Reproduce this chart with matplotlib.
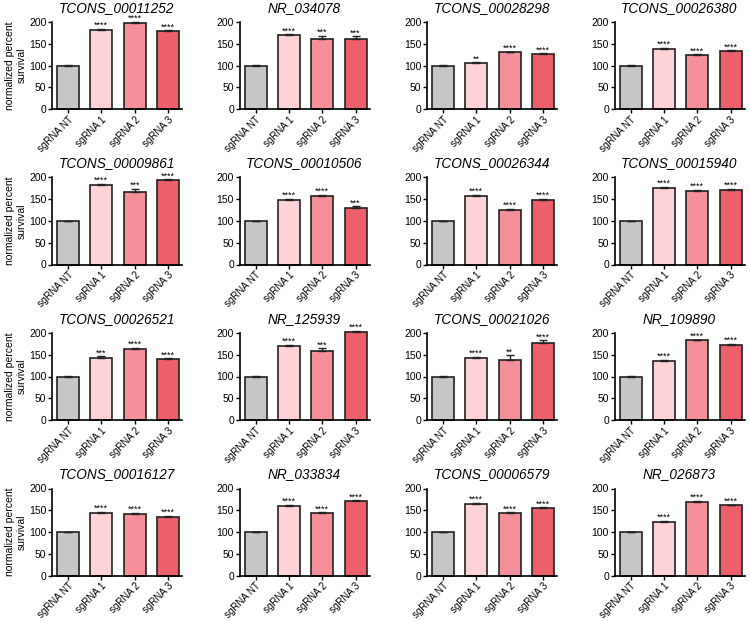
import numpy as np
import matplotlib
matplotlib.use('Agg')
import matplotlib.pyplot as plt

plt.rcParams['font.family'] = ['Liberation Sans', 'DejaVu Sans']

# Daten
groups = ['sgRNA NT', 'sgRNA 1', 'sgRNA 2', 'sgRNA 3']
titles = ['TCONS_00011252', 'NR_034078', 'TCONS_00028298', 'TCONS_00026380',
          'TCONS_00009861', 'TCONS_00010506', 'TCONS_00026344', 'TCONS_00015940',
          'TCONS_00026521', 'NR_125939', 'TCONS_00021026', 'NR_109890',
          'TCONS_00016127', 'NR_033834', 'TCONS_00006579', 'NR_026873']
means = [[100, 181, 198, 179], [100, 170, 161, 161], [100, 106, 130, 127], [100, 138, 125, 133],
         [100, 183, 167, 194], [100, 149, 158, 131], [100, 158, 126, 148], [100, 175, 170, 171],
         [100, 142, 163, 141], [100, 171, 159, 203], [100, 143, 139, 177], [100, 135, 183, 173],
         [100, 144, 142, 135], [100, 160, 143, 171], [100, 165, 143, 155], [100, 124, 170, 161]]
errors = [[1, 3, 2, 2], [1, 2, 7, 6], [1, 1, 2, 1], [1, 2, 1, 2],
          [1, 2, 7, 2], [1, 2, 2, 3], [1, 2, 2, 3], [1, 3, 2, 3],
          [1, 4, 3, 1], [1, 2, 6, 2], [1, 2, 10, 6], [1, 3, 2, 2],
          [1, 2, 2, 2], [1, 3, 2, 2], [1, 2, 2, 2], [1, 2, 2, 2]]
stars = [['', '****', '****', '****'], ['', '****', '***', '***'], ['', '**', '****', '****'], ['', '****', '****', '****'],
         ['', '****', '***', '****'], ['', '****', '****', '***'], ['', '****', '****', '****'], ['', '****', '****', '****'],
         ['', '***', '****', '****'], ['', '****', '***', '****'], ['', '****', '**', '****'], ['', '****', '****', '****'],
         ['', '****', '****', '****'], ['', '****', '****', '****'], ['', '****', '****', '****'], ['', '****', '****', '****']]

colors = ['#c6c6c6', '#fdd3d7', '#f5909b', '#ee5f6c']

W, H = 750, 621
fig = plt.figure(figsize=(W / 100, H / 100), dpi=100)

x = np.arange(4)
for i in range(16):
    r, c = divmod(i, 4)
    left = 52 + 187.5 * c
    top = 22 + 155.5 * r
    ax = fig.add_axes([left / W, 1 - (top + 87) / H, 130 / W, 87 / H])
    ax.bar(x, means[i], width=0.66, color=colors, edgecolor='#222222', linewidth=1.2,
           zorder=2, clip_on=False)
    ax.errorbar(x, means[i], yerr=[np.zeros(4), errors[i]], fmt='none', ecolor='#222222',
                elinewidth=1.0, capsize=3, capthick=1.0, zorder=3, clip_on=False)
    for j in range(4):
        if stars[i][j]:
            ax.annotate(stars[i][j], (x[j], means[i][j] + errors[i][j]), xytext=(0, -0.8),
                        textcoords='offset points', ha='center', va='bottom',
                        fontsize=6.5, annotation_clip=False)
    ax.set_xlim(-0.48, 3.42)
    ax.set_ylim(0, 200)
    ax.set_yticks([0, 50, 100, 150, 200])
    ax.set_xticks(x)
    ax.set_xticklabels(groups, rotation=45, ha='right', rotation_mode='anchor', fontsize=7)
    ax.tick_params(axis='y', labelsize=7.5, length=3, width=1, pad=1)
    ax.tick_params(axis='x', length=3, width=1, pad=1)
    ax.spines['top'].set_visible(False)
    ax.spines['right'].set_visible(False)
    ax.spines['left'].set_linewidth(1.2)
    ax.spines['bottom'].set_linewidth(1.2)
    ax.set_title(titles[i], fontsize=9.8, style='italic', pad=7.2)
    if c == 0:
        ax.set_ylabel('normalized percent\nsurvival', fontsize=7.5, labelpad=2)

plt.savefig('out.png', dpi=100)
